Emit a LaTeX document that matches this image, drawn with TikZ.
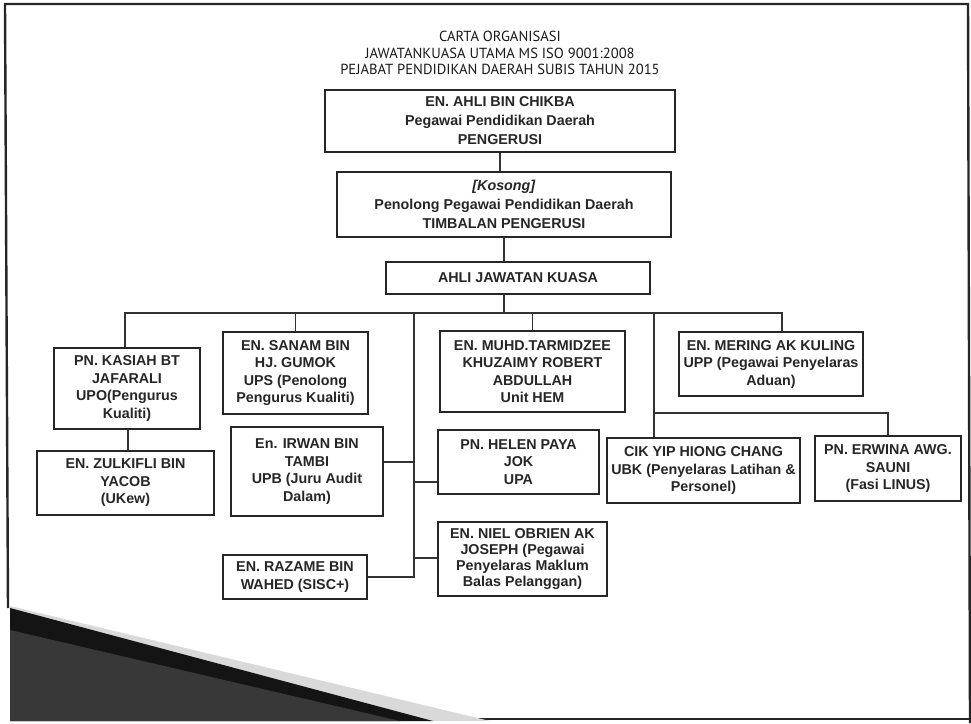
\documentclass[tikz,border=0pt]{standalone}
\usepackage{fontspec}
\setmainfont{Liberation Sans}
\newfontfamily\titlefont{PT Sans}
\usetikzlibrary{positioning, calc}

\tikzset{
  unitbox/.style={draw=black!85, line width=1.4pt, align=center, inner sep=2pt,
    font=\fontsize{14.3}{17.5}\selectfont\bfseries, text=black!85},
  link/.style={draw=black!80, line width=1.1pt},
  frame/.style={draw=black!85, line width=2.4pt}
}

\begin{document}
\begin{tikzpicture}[x=1pt, y=-1pt]
  \useasboundingbox (0,0) rectangle (971,723);
  \fill[white] (0,0) rectangle (971,723);

  % slide frame and the dark corner
  \draw[frame] (8,608) -- (5,4) -- (968,4) -- (970,723);
  \draw[frame] (433,719) -- (971,719);
  \fill[gray!30] (10,606) -- (490,721) -- (10,721) -- cycle;
  \fill[black!92] (10,608) -- (433,721) -- (10,721) -- cycle;
  \fill[black!78] (10,630) -- (400,721) -- (10,721) -- cycle;

  \node[font=\titlefont\fontsize{14.6}{16.2}\selectfont, align=center, text=black!90] (title) at (500,53)
    {CARTA ORGANISASI\\ JAWATANKUASA UTAMA MS ISO 9001:2008\\ PEJABAT PENDIDIKAN DAERAH SUBIS TAHUN 2015};

  \node[unitbox, minimum width=350pt, minimum height=62pt, font=\fontsize{14.3}{19}\selectfont\bfseries] (chair) at (500,121)
    {EN. AHLI BIN CHIKBA\\ Pegawai Pendidikan Daerah\\ PENGERUSI};
  \node[unitbox, minimum width=334pt, minimum height=65pt, font=\fontsize{14.3}{19}\selectfont\bfseries] (deputy) at (504,204.5)
    {\textit{[Kosong]}\\ Penolong Pegawai Pendidikan Daerah\\ TIMBALAN PENGERUSI};
  \node[unitbox, minimum width=264pt, minimum height=32pt] (ajk) at (518,278)
    {AHLI JAWATAN KUASA};

  \node[unitbox, minimum width=146pt, minimum height=81pt] (kasiah) at (127,388.5)
    {PN. KASIAH BT\\ JAFARALI\\ UPO(Pengurus\\ Kualiti)};
  \node[unitbox, minimum width=177pt, minimum height=64pt] (zulkifli) at (125.5,483)
    {EN. ZULKIFLI BIN\\ YACOB\\ (UKew)};
  \node[unitbox, minimum width=145pt, minimum height=82pt] (sanam) at (295.5,373)
    {EN. SANAM BIN\\ HJ. GUMOK\\ UPS (Penolong\\ Pengurus Kualiti)};
  \node[unitbox, minimum width=152pt, minimum height=89pt] (irwan) at (307,471.5)
    {En. IRWAN BIN\\ TAMBI\\ UPB (Juru Audit\\ Dalam)};
  \node[unitbox, minimum width=144pt, minimum height=44pt] (razame) at (295,577)
    {EN. RAZAME BIN\\ WAHED (SISC+)};
  \node[unitbox, minimum width=185pt, minimum height=81pt] (muhd) at (532.5,371.5)
    {EN. MUHD.TARMIDZEE\\ KHUZAIMY ROBERT\\ ABDULLAH\\ Unit HEM};
  \node[unitbox, minimum width=161pt, minimum height=64pt] (helen) at (518.5,462)
    {PN. HELEN PAYA\\ JOK\\ UPA};
  \node[unitbox, minimum width=169pt, minimum height=74pt, font=\fontsize{14.3}{16}\selectfont\bfseries] (niel) at (522.5,559)
    {EN. NIEL OBRIEN AK\\ JOSEPH (Pegawai\\ Penyelaras Maklum\\ Balas Pelanggan)};
  \node[unitbox, minimum width=184pt, minimum height=64pt] (mering) at (771,364)
    {EN. MERING AK KULING\\ UPP (Pegawai Penyelaras\\ Aduan)};
  \node[unitbox, minimum width=193pt, minimum height=65pt] (cik) at (703.5,470.5)
    {CIK YIP HIONG CHANG\\ UBK (Penyelaras Latihan \&\\ Personel)};
  \node[unitbox, minimum width=146pt, minimum height=65pt] (erwina) at (888,468.5)
    {PN. ERWINA AWG.\\ SAUNI\\ (Fasi LINUS)};

  \coordinate (bus-l) at (125,313);
  \coordinate (bus-r) at (782,313);
  \coordinate (trunk) at (414,313);
  \coordinate (branch) at (654,313);
  \coordinate (fork) at (654,413);

  \draw[link] (chair.south) -- (chair.south |- deputy.north);
  \draw[link] (deputy.south) -- (deputy.south |- ajk.north);
  \draw[link] (deputy.south |- ajk.south) -- (deputy.south |- bus-l);
  \draw[link] (kasiah.north -| bus-l) -- (bus-l) -- (bus-r) -- (bus-r |- mering.north);
  \draw[link] (kasiah.south -| 128,0) -- (zulkifli.north -| 128,0);
  \draw[link] (sanam.north) -- (sanam.north |- bus-l);
  \draw[link] (muhd.north) -- (muhd.north |- bus-l);
  \draw[link] (trunk) -- (trunk |- razame.east) -- (razame.east);
  \draw[link] (irwan.east |- 0,462) -- (trunk |- 0,462);
  \draw[link] (helen.west |- 0,482) -- (trunk |- 0,482);
  \draw[link] (niel.west |- 0,558) -- (trunk |- 0,558);
  \draw[link] (branch) -- (branch |- cik.north);
  \draw[link] (fork) -- (fork -| erwina.north) -- (erwina.north);
\end{tikzpicture}
\end{document}
